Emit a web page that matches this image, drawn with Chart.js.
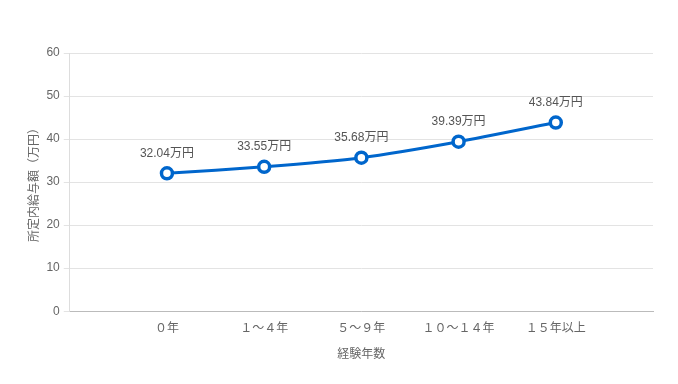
<!DOCTYPE html>
<html>
<head>
<meta charset="utf-8">
<script src="https://cdn.jsdelivr.net/npm/chart.js@4"></script>
<style>
  html, body { margin: 0; padding: 0; background: #fff; }
  #wrap { width: 678px; height: 384px; }
</style>
</head>
<body>
<div id="wrap"><canvas id="myChart"></canvas></div>
<script>
// categories with blank slots at both ends (the chart leaves room either side)
const categories = ['', '０年', '１～４年', '５～９年', '１０～１４年', '１５年以上', ''];
const salary = [null, 32.04, 33.55, 35.68, 39.39, 43.84, null];
const yTicks = [0, 10, 20, 30, 40, 50, 60];

const FONT = "'Liberation Sans', Arial, 'Noto Sans CJK JP', sans-serif";

// draws "xx.xx万円" above each point
const pointLabels = {
    id: 'pointLabels',
    afterDatasetsDraw(chart) {
        const ctx = chart.ctx;
        const meta = chart.getDatasetMeta(0);
        ctx.save();
        ctx.font = '12px ' + FONT;
        ctx.fillStyle = '#555';
        ctx.textAlign = 'center';
        ctx.textBaseline = 'bottom';
        meta.data.forEach((pt, i) => {
            const v = salary[i];
            if (v === null) return;
            ctx.fillText(v.toFixed(2) + '万円', pt.x, pt.y - 14);
        });
        ctx.restore();
    }
};

document.addEventListener('DOMContentLoaded', function() {
    const ctx = document.getElementById('myChart').getContext('2d');
    new Chart(ctx, {
        type: 'line',
        data: {
            labels: categories,
            datasets: [{
                data: salary,
                borderColor: '#0066cc',
                borderWidth: 3,
                backgroundColor: '#fff',
                pointRadius: 5.5,
                pointBorderWidth: 3.5,
                pointBackgroundColor: '#fff',
                pointBorderColor: '#0066cc',
                tension: 0.2,
                spanGaps: false
            }]
        },
        options: {
            responsive: true,
            maintainAspectRatio: false,
            animation: false,
            layout: { padding: { top: 53, right: 25, bottom: 18, left: 23 } },
            plugins: {
                legend: { display: false },
                tooltip: { enabled: false }
            },
            scales: {
                x: {
                    offset: false,
                    grid: { display: false },
                    border: { display: true, color: '#bbb' },
                    ticks: {
                        color: '#666',
                        font: { family: FONT, size: 12 },
                        maxRotation: 0,
                        autoSkip: false,
                        padding: 2
                    },
                    title: {
                        display: true,
                        text: '経験年数',
                        color: '#666',
                        font: { family: FONT, size: 12 },
                        padding: { top: 10 }
                    }
                },
                y: {
                    min: yTicks[0],
                    max: yTicks[yTicks.length - 1],
                    afterBuildTicks(axis) {
                        axis.ticks = yTicks.map(v => ({ value: v }));
                    },
                    grid: { color: '#e3e3e3', tickLength: 6 },
                    border: { display: true, color: '#ddd' },
                    ticks: {
                        color: '#666',
                        font: { family: FONT, size: 12 },
                        padding: 4
                    },
                    title: {
                        display: true,
                        text: '所定内給与額（万円）',
                        color: '#666',
                        font: { family: FONT, size: 12 },
                        padding: { bottom: 1 }
                    }
                }
            }
        },
        plugins: [pointLabels]
    });
});
</script>
</body>
</html>
